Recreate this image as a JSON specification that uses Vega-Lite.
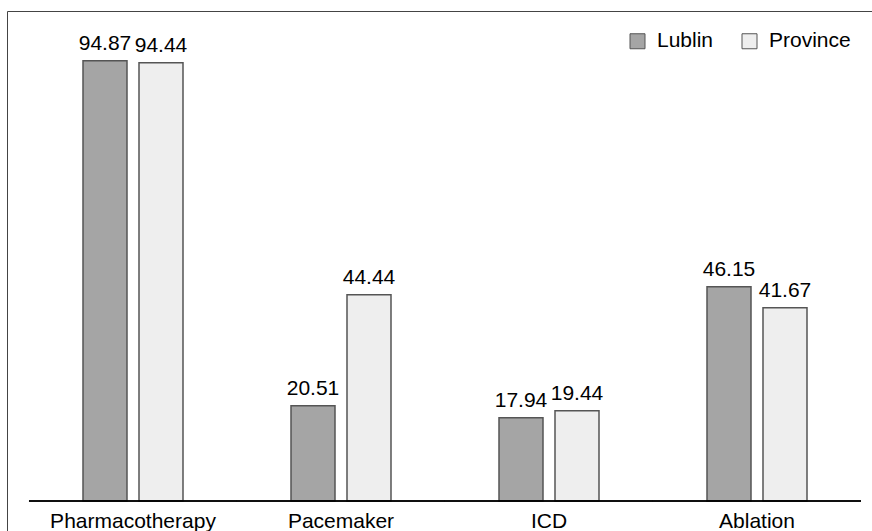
{
  "$schema": "https://vega.github.io/schema/vega-lite/v6.json",
  "autosize": {"type": "none"},
  "padding": {"left": 7, "top": 11, "right": 0, "bottom": 0},
  "width": 870,
  "height": 530,
  "background": "white",
  "config": {
    "view": {"stroke": "#444444", "strokeWidth": 1},
    "font": "Liberation Sans",
    "text": {"font": "Liberation Sans"}
  },
  "data": {
    "values": [
      {"treatment": "Pharmacotherapy", "area": "Lublin", "pct": 94.87},
      {"treatment": "Pharmacotherapy", "area": "Province", "pct": 94.44},
      {"treatment": "Pacemaker", "area": "Lublin", "pct": 20.51},
      {"treatment": "Pacemaker", "area": "Province", "pct": 44.44},
      {"treatment": "ICD", "area": "Lublin", "pct": 17.94},
      {"treatment": "ICD", "area": "Province", "pct": 19.44},
      {"treatment": "Ablation", "area": "Lublin", "pct": 46.15},
      {"treatment": "Ablation", "area": "Province", "pct": 41.67}
    ]
  },
  "encoding": {
    "x": {
      "field": "treatment",
      "type": "nominal",
      "sort": null,
      "scale": {"paddingInner": 0, "paddingOuter": 0.09135, "align": 0.5789},
      "axis": {
        "title": null,
        "orient": "bottom",
        "offset": -40,
        "domain": false,
        "ticks": false,
        "labelAngle": 0,
        "labelFontSize": 21,
        "labelFont": "Liberation Sans",
        "labelColor": "#000000",
        "labelPadding": 9
      }
    }
  },
  "layer": [
    {
      "mark": {"type": "bar", "stroke": "#555555", "strokeWidth": 1.5},
      "encoding": {
        "xOffset": {
          "field": "area",
          "type": "nominal",
          "scale": {"paddingInner": 0.2143, "paddingOuter": 0.9643}
        },
        "y": {
          "field": "pct",
          "type": "quantitative",
          "scale": {"domain": [-8.62, 105.6], "nice": false, "zero": false},
          "axis": null
        },
        "color": {
          "field": "area",
          "type": "nominal",
          "scale": {"domain": ["Lublin", "Province"], "range": ["#a5a5a5", "#eeeeee"]},
          "legend": {
            "title": null,
            "orient": "none",
            "direction": "horizontal",
            "legendX": 620,
            "legendY": 19.5,
            "padding": 0,
            "symbolType": "square",
            "symbolSize": 225,
            "symbolStrokeColor": "#555555",
            "symbolStrokeWidth": 1,
            "symbolOpacity": 1,
            "labelFontSize": 21,
            "labelFont": "Liberation Sans",
            "labelColor": "#000000",
            "labelOffset": 9,
            "columnPadding": 25
          }
        }
      }
    },
    {
      "mark": {"type": "text", "baseline": "alphabetic", "dy": -11, "fontSize": 21, "color": "#000000"},
      "encoding": {
        "xOffset": {"field": "area", "type": "nominal"},
        "y": {"field": "pct", "type": "quantitative"},
        "text": {"field": "pct", "type": "quantitative", "format": ".2f"}
      }
    },
    {
      "mark": {"type": "rect", "fill": null, "stroke": "#000000", "strokeWidth": 1},
      "encoding": {
        "y": {"datum": 0, "type": "quantitative"},
        "y2": {"datum": 0}
      }
    }
  ]
}
